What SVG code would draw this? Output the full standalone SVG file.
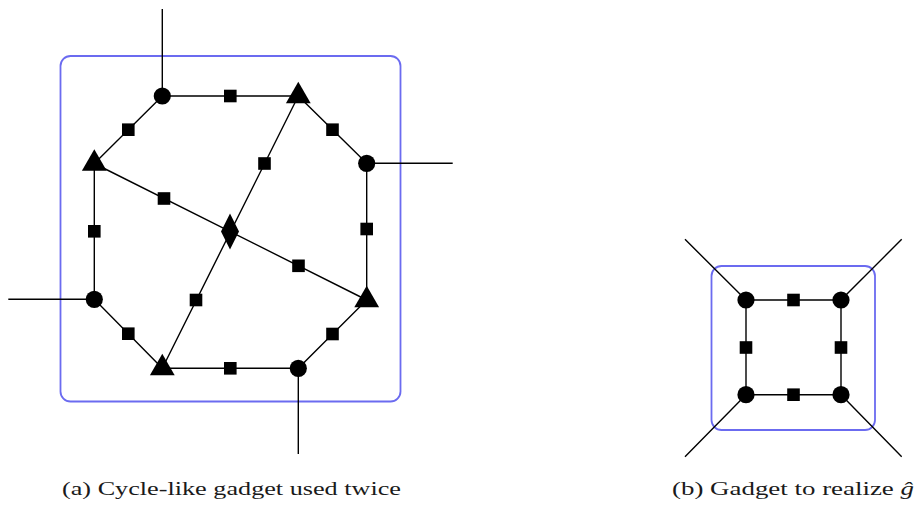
<svg xmlns="http://www.w3.org/2000/svg" width="919" height="512" viewBox="0 0 919 512">
<style>
.e{stroke:#000;stroke-width:1.4;fill:none}
.box{fill:none;stroke:#6b6bf0;stroke-width:1.8}
.n{fill:#000}
.cap{font-family:"Liberation Serif","DejaVu Serif",serif;font-size:19.5px;fill:#1a1a1a}
</style>
<defs>
<circle id="c" r="8.6"/>
<rect id="s" x="-6.3" y="-6.3" width="12.6" height="12.6"/>
<polygon id="t" points="0,-14.2 12.4,7.2 -12.4,7.2"/>
<polygon id="d" points="0,-18 9,0 0,18 -9,0"/>
</defs>
<rect class="box" x="60.5" y="56" width="340" height="345.5" rx="10"/>
<rect class="box" x="711.5" y="266" width="163.5" height="164" rx="10"/>
<g id="connectors">
<path class="e" d="M162.3,9V96H298.3L366.7,163.3V300L298.3,368.3H162.3L94.3,299.3V163.5L162.3,96"/>
<path class="e" d="M366.7,163.3H452.7M298.3,368.3V454M94.3,299.3H8.3"/>
<path class="e" d="M94.3,163.5L366.7,300M298.3,96L162.3,368.3"/>
<path class="e" d="M746,300H841V394.7H746Z"/>
<path class="e" d="M685,239.3L746,300M901.7,239.3L841,300M685,456.7L746,394.7M901.7,456.7L841,394.7"/>
</g>
<g class="n">
<use id="c1" href="#c" x="162.3" y="96"/>
<use id="t1" href="#t" x="298.3" y="96"/>
<use id="c2" href="#c" x="366.7" y="163.3"/>
<use id="t2" href="#t" x="366.7" y="300"/>
<use id="c3" href="#c" x="298.3" y="368.3"/>
<use id="t3" href="#t" x="162.3" y="368"/>
<use id="c4" href="#c" x="94.3" y="299.3"/>
<use id="t4" href="#t" x="94.3" y="163.5"/>
<use id="dm" href="#d" x="230" y="231.5"/>
<use id="s1" href="#s" x="230.3" y="96"/>
<use id="s2" href="#s" x="332.5" y="129.7"/>
<use id="s3" href="#s" x="366.7" y="229"/>
<use id="s4" href="#s" x="332.5" y="334"/>
<use id="s5" href="#s" x="230.3" y="368.3"/>
<use id="s6" href="#s" x="128.3" y="333.7"/>
<use id="s7" href="#s" x="94.3" y="231.3"/>
<use id="s8" href="#s" x="128.3" y="129.7"/>
<use id="s9" href="#s" x="164" y="198.5"/>
<use id="s10" href="#s" x="298.5" y="265.8"/>
<use id="s11" href="#s" x="264.5" y="163.5"/>
<use id="s12" href="#s" x="196" y="300"/>
<use id="b1" href="#c" x="746" y="300"/>
<use id="b2" href="#c" x="841" y="300"/>
<use id="b3" href="#c" x="746" y="394.7"/>
<use id="b4" href="#c" x="841" y="394.7"/>
<use id="bs1" href="#s" x="793.5" y="300"/>
<use id="bs2" href="#s" x="793.5" y="394.7"/>
<use id="bs3" href="#s" x="746" y="347.5"/>
<use id="bs4" href="#s" x="841" y="347.5"/>
</g>
<text class="cap" x="62" y="494.5" textLength="339" lengthAdjust="spacingAndGlyphs">(a) Cycle-like gadget used twice</text>
<text class="cap" x="672" y="494.5" textLength="242" lengthAdjust="spacingAndGlyphs">(b) Gadget to realize <tspan font-style="italic">ĝ</tspan></text>
</svg>
